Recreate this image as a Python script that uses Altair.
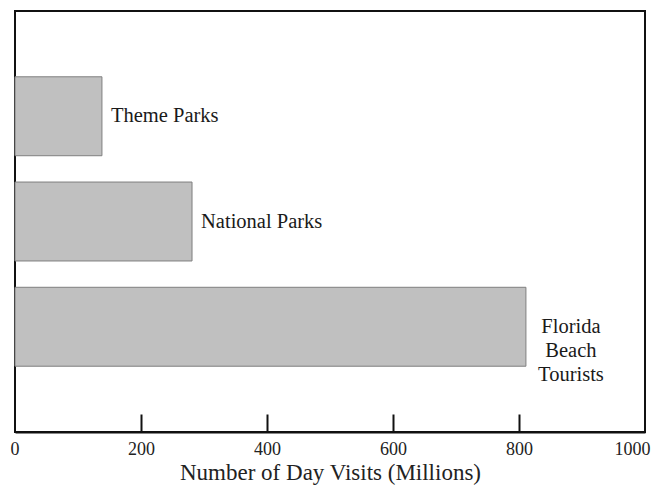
import altair as alt
import pandas as pd

categories = ["Theme Parks", "National Parks", "Florida Beach Tourists"]
labels = ["Theme Parks", "National Parks", "Florida\nBeach\nTourists"]
values = [138, 281, 811]
tick_values = [0, 200, 400, 600, 800, 1000]
inner_ticks = [200, 400, 600, 800]

df = pd.DataFrame({"category": categories, "label": labels, "value": values})

FONT = "Liberation Serif"

yenc = alt.Y(
    "category:N",
    sort=categories,
    scale=alt.Scale(paddingInner=0.25, paddingOuter=0.625),
    axis=None,
)
xscale = alt.Scale(domain=[0, 1000], nice=False, zero=True)

bars = alt.Chart(df).mark_bar(
    fill="#c0c0c0", stroke="#7f7f7f", strokeWidth=1
).encode(
    x=alt.X(
        "value:Q",
        scale=xscale,
        axis=alt.Axis(
            orient="bottom",
            values=tick_values,
            format="d",
            ticks=False,
            tickSize=0,
            grid=False,
            domainColor="#111",
            domainWidth=2,
            labelFont=FONT,
            labelFontSize=18,
            labelColor="#222",
            labelPadding=8,
            labelBaseline="top",
            labelFlush=True,
            labelFlushOffset=5,
            labelOverlap=False,
            title="Number of Day Visits (Millions)",
            titleFont=FONT,
            titleFontSize=23,
            titleFontWeight="normal",
            titleColor="#222",
            titlePadding=3,
        ),
    ),
    y=yenc,
)

left_labels = alt.Chart(df).transform_filter(
    alt.datum.category != "Florida Beach Tourists"
).mark_text(
    align="left", baseline="middle", dx=9, font=FONT, fontSize=20.5, color="#1a1a1a"
).encode(
    x=alt.X(
        "value:Q",
        scale=xscale,
        axis=alt.Axis(
            orient="bottom",
            values=inner_ticks,
            offset=-18,
            tickSize=18,
            tickWidth=2,
            tickColor="#111",
            domain=False,
            labels=False,
            grid=False,
            title=None,
        ),
    ),
    y=yenc,
    text="label:N",
)

florida_label = alt.Chart(df).transform_filter(
    alt.datum.category == "Florida Beach Tourists"
).mark_text(
    align="center", baseline="middle", dx=45, lineBreak="\n", lineHeight=24,
    font=FONT, fontSize=20.5, color="#1a1a1a"
).encode(
    x=alt.X("value:Q", scale=xscale, axis=None),
    y=yenc,
    text="label:N",
)

chart = alt.layer(bars, left_labels, florida_label).resolve_scale(
    x="shared", y="shared"
).resolve_axis(x="independent").properties(
    width=630,
    height=421,
    autosize=alt.AutoSizeParams(type="none"),
    padding={"left": 7, "top": 3, "right": 10, "bottom": 55},
    background="white",
).configure_view(stroke="#111", strokeWidth=2)

chart.save("out.html", embed_options={"renderer": "svg", "actions": False})
